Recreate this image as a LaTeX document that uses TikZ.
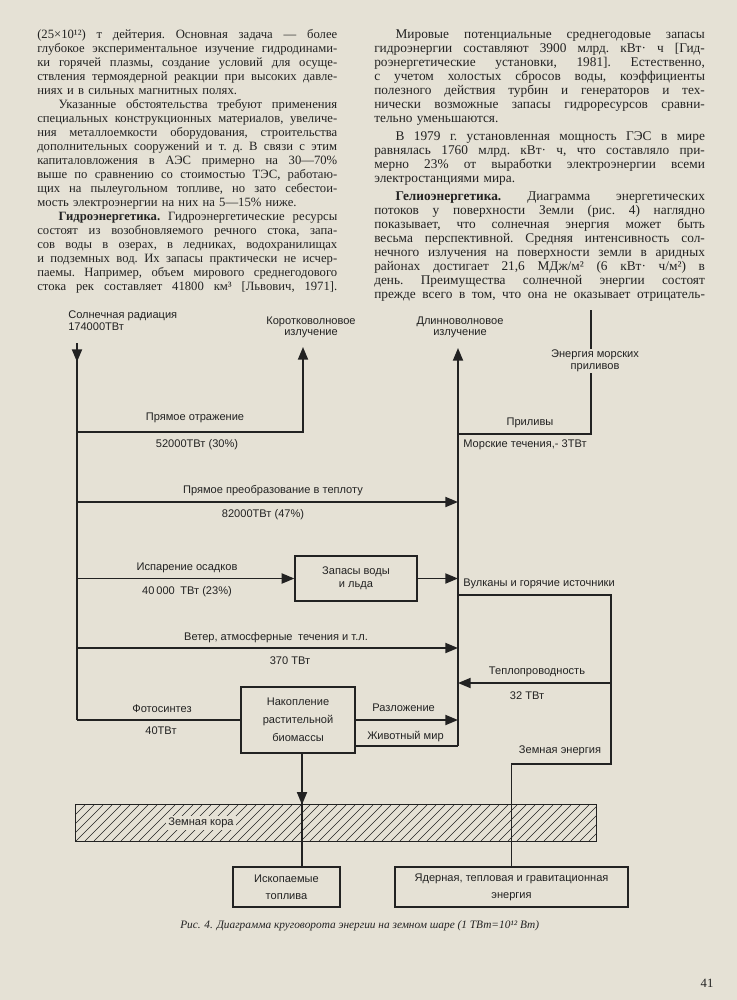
\documentclass[tikz,border=0pt]{standalone}
\usepackage{fontspec}
\setmainfont{Liberation Serif}
\setsansfont{Liberation Sans}
\usetikzlibrary{arrows.meta, positioning}

\definecolor{paper}{HTML}{E5E1D5}
\definecolor{ink}{HTML}{222222}

% justified book lines
\newlength\colindent
\setlength\colindent{16pt}
\newlength\colw
\newcommand\pgstrut{\vrule height8pt depth2.5pt width0pt\relax}
\def\jwords#1 #2\jend{#1\if\relax\detokenize{#2}\relax\else
  \hskip0.28em plus 1fill minus 0.05em\relax\jwords#2\jend\fi}
\newcommand\jline[1]{\hbox to\colw{\pgstrut\jwords#1 \jend}}
\newcommand\iline[1]{\hbox to\colw{\pgstrut\hskip\colindent\jwords#1 \jend}}
\newcommand\eline[1]{\hbox to\colw{\pgstrut#1\hfil}}

\begin{document}
\begin{tikzpicture}[
  x=0.75pt, y=-0.75pt,
  every node/.style={inner sep=0pt, text=ink},
  body/.style={anchor=north west},
  lbl/.style={font=\sffamily\fontsize{8.3pt}{9pt}\selectfont, align=center},
  box/.style={draw=ink, line width=0.9pt, lbl},
  flow/.style={draw=ink, line width=1.4pt},
  arr/.style={flow, -{Triangle[length=9.5pt, width=7.5pt]}},
  hatch/.style={draw=ink, line width=0.5pt}
]
\fill[paper] (0,0) rectangle (737,1000);
\useasboundingbox (0,0) rectangle (737,1000);

% Left column of text
\node[body, text width=225pt, font=\fontsize{9.5pt}{10.5pt}\selectfont] (leftcol) at (37,27.25) {%
\setlength\colw{225pt}%
\jline{(25×10¹²) т дейтерия. Основная задача — более}
\jline{глубокое экспериментальное изучение гидродинами-}
\jline{ки горячей плазмы, создание условий для осуще-}
\jline{ствления термоядерной реакции при высоких давле-}
\eline{ниях и в сильных магнитных полях.}
\iline{Указанные обстоятельства требуют применения}
\jline{специальных конструкционных материалов, увеличе-}
\jline{ния металлоемкости оборудования, строительства}
\jline{дополнительных сооружений и т. д. В связи с этим}
\jline{капиталовложения в АЭС примерно на 30—70\%}
\jline{выше по сравнению со стоимостью ТЭС, работаю-}
\jline{щих на пылеугольном топливе, но зато себестои-}
\eline{мость электроэнергии на них на 5—15\% ниже.}
\iline{\textbf{Гидроэнергетика.} Гидроэнергетические ресурсы}
\jline{состоят из возобновляемого речного стока, запа-}
\jline{сов воды в озерах, в ледниках, водохранилищах}
\jline{и подземных вод. Их запасы практически не исчер-}
\jline{паемы. Например, объем мирового среднегодового}
\jline{стока рек составляет 41800 км³ [Львович, 1971].}
};

% Right column of text
\node[body, text width=248pt, font=\fontsize{10pt}{10.5pt}\selectfont] (rightcol) at (374,27.25) {%
\setlength\colw{248pt}%
\iline{Мировые потенциальные среднегодовые запасы}
\jline{гидроэнергии составляют 3900 млрд. кВт· ч [Гид-}
\jline{роэнергетические установки, 1981]. Естественно,}
\jline{с учетом холостых сбросов воды, коэффициенты}
\jline{полезного действия турбин и генераторов и тех-}
\jline{нически возможные запасы гидроресурсов сравни-}
\eline{тельно уменьшаются.}
\vskip3pt
\iline{В 1979 г. установленная мощность ГЭС в мире}
\jline{равнялась 1760 млрд. кВт· ч, что составляло при-}
\jline{мерно 23\% от выработки электроэнергии всеми}
\eline{электростанциями мира.}
\vskip3pt
\iline{\textbf{Гелиоэнергетика.} Диаграмма энергетических}
\jline{потоков у поверхности Земли (рис. 4) наглядно}
\jline{показывает, что солнечная энергия может быть}
\jline{весьма перспективной. Средняя интенсивность сол-}
\jline{нечного излучения на поверхности земли в аридных}
\jline{районах достигает 21,6 МДж/м² (6 кВт· ч/м²) в}
\jline{день. Преимущества солнечной энергии состоят}
\jline{прежде всего в том, что она не оказывает отрицатель-}
};

% Fixed points of the flow lines
\coordinate (sunTop) at (77,343);
\coordinate (sunArr) at (77,362);
\coordinate (sunEnd) at (77,720);
\coordinate (reflL) at (77,432);
\coordinate (shortTip) at (303,347);
\coordinate (heatL) at (77,502);
\coordinate (windL) at (77,648);
\coordinate (longTip) at (458,348);
\coordinate (longBot) at (458,746);
\coordinate (tideTop) at (591,310);
\coordinate (tideBend) at (591,434);
\coordinate (volcL) at (458,595);
\coordinate (geoR) at (611,595);
\coordinate (condR) at (611,683);
\coordinate (geoBot) at (611,764);
\coordinate (dropTop) at (302,753);

% Boxes
\node[box, minimum width=91.5pt, minimum height=33.75pt,
  font=\sffamily\fontsize{8.3pt}{9.75pt}\selectfont] (water) at (356,578.5)
  {Запасы воды\\и льда};
\node[box, minimum width=85.5pt, minimum height=49.5pt,
  font=\sffamily\fontsize{8.3pt}{13.5pt}\selectfont] (biomass) at (298,720)
  {Накопление\\растительной\\биомассы};
\node[box, minimum width=80.25pt, minimum height=30pt,
  font=\sffamily\fontsize{8.3pt}{12.75pt}\selectfont] (fossil) at (286.5,887)
  {Ископаемые\\топлива};
\node[box, minimum width=174.75pt, minimum height=30pt,
  font=\sffamily\fontsize{8.3pt}{12.75pt}\selectfont] (nuclear) at (511.5,887)
  {Ядерная, тепловая и гравитационная\\энергия};

% Earth crust
\node[minimum width=390pt, minimum height=27pt] (crust) at (336,823) {};
\begin{scope}
  \clip (crust.south west) rectangle (crust.north east);
  \foreach \hx in {40,49,...,600}
    \draw[hatch] (\hx,841) -- ++(36,-36);
\end{scope}
\draw[hatch] (crust.south west) rectangle (crust.north east);

% Flows
\draw[flow] (sunTop) -- (sunEnd);
\draw[arr] (sunTop) -- (sunArr);
\draw[arr] (reflL) -| (shortTip);
\draw[arr] (heatL) -- (heatL -| longTip);
\draw[arr] (reflL |- water.west) -- (water.west);
\draw[arr] (water.east) -- (water.east -| longTip);
\draw[arr] (windL) -- (windL -| longTip);
\draw[flow] (sunEnd) -- (biomass.west);
\draw[arr] (biomass.east) -- (biomass.east -| longTip);
\draw[flow] (biomass.east |- longBot) -- (longBot);
\draw[arr] (longBot) -- (longTip);
\draw[flow] (tideTop) -- (tideBend) -- (tideBend -| longTip);
\draw[flow] (volcL) -- (geoR) -- (geoBot) -| (nuclear.north);
\draw[arr] (condR) -- (condR -| longTip);
\draw[flow] (dropTop) -- (dropTop |- fossil.north);
\draw[arr] (dropTop) -- (dropTop |- crust.north);

% Labels
\node[lbl, anchor=west, align=left] (sun) at (68,321) {Солнечная радиация\\174000ТВт};
\node[lbl, font=\sffamily\fontsize{8.3pt}{8.25pt}\selectfont] (short) at (311,327.5) {Коротковолновое\\излучение};
\node[lbl, font=\sffamily\fontsize{8.3pt}{8.25pt}\selectfont] (long) at (460,327.5) {Длинноволновое\\излучение};
\node[lbl, fill=paper, inner sep=1pt] (tides) at (595,361) {Энергия морских\\приливов};
\node[lbl] (tidesIn) at (530,423) {Приливы};
\node[lbl] (currents) at (525,445) {Морские течения,- 3ТВт};
\node[lbl] (refl) at (195,418) {Прямое отражение};
\node[lbl] (reflVal) at (197,445) {52000ТВт (30\%)};
\node[lbl] (heat) at (273,491) {Прямое преобразование в теплоту};
\node[lbl] (heatVal) at (263,515) {82000ТВт (47\%)};
\node[lbl] (evap) at (187,568) {Испарение осадков};
\node[lbl] (evapVal) at (187,592) {40\,000\enspace ТВт (23\%)};
\node[lbl, anchor=west] (volc) at (463,584) {Вулканы и горячие источники};
\node[lbl] (wind) at (276,638) {Ветер, атмосферные\enspace течения и т.л.};
\node[lbl] (windVal) at (290,661) {370 ТВт};
\node[lbl] (cond) at (537,672) {Теплопроводность};
\node[lbl] (condVal) at (527,696) {32 ТВт};
\node[lbl] (photo) at (162,709) {Фотосинтез};
\node[lbl] (photoVal) at (161,731) {40ТВт};
\node[lbl, anchor=west] (decomp) at (372,708) {Разложение};
\node[lbl, anchor=west] (animals) at (367,737) {Животный мир};
\node[lbl] (geo) at (560,751) {Земная энергия};
\node[lbl, fill=paper, inner sep=1.5pt] (crustLbl) at (201,823) {Земная кора};

% Caption and page number
\node[anchor=west, font=\itshape\fontsize{8.5pt}{10pt}\selectfont] (caption) at (180,926)
  {Рис. 4. Диаграмма круговорота энергии на земном шаре (1 ТВт=10¹² Вт)};
\node[font=\fontsize{9.5pt}{10.5pt}\selectfont] (pageno) at (707,983) {41};
\end{tikzpicture}
\end{document}
